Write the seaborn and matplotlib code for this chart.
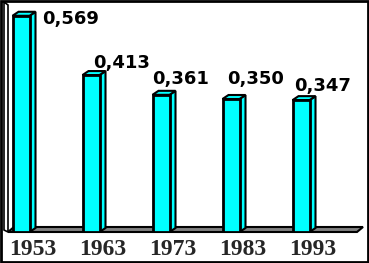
import matplotlib
matplotlib.use("Agg")
import matplotlib.pyplot as plt
import seaborn as sns
import pandas as pd
from matplotlib.patches import Polygon
from matplotlib.transforms import ScaledTranslation

years = ["1953", "1963", "1973", "1983", "1993"]
values = [0.569, 0.413, 0.361, 0.350, 0.347]
value_labels = ["0,569", "0,413", "0,361", "0,350", "0,347"]

# label offsets in pixels relative to (bar right edge / bar top) - layout only
lab_dx = [13, -6, -17, -12, -15]
lab_dy = [-3, 12, 16, 20, 14]

sns.set_style("white")
W, H = 369, 263
fig = plt.figure(figsize=(W / 100, H / 100), dpi=100)
fig.patch.set_facecolor("white")

# axes in pixel geometry
L, R, T, B = 8, 360, 5, 232
ax = fig.add_axes([L / W, (H - B) / H, (R - L) / W, (B - T) / H])
pxu_y = 380.0
pxu_x = 70.0

df = pd.DataFrame({"year": years, "value": values})
sns.barplot(data=df, x="year", y="value", color="#00FFFF", saturation=1,
            edgecolor="black", linewidth=2, width=17 / pxu_x, ax=ax, zorder=3)

ax.set_xlim(-(21 - L) / pxu_x, 4 + (R - 301) / pxu_x)
ax.set_ylim(0, (B - T) / pxu_y)

dx = 6 / pxu_x
dy = 4 / pxu_y

# floor
x0, x1 = ax.get_xlim()
floor = Polygon([(x0, 0), (x1 - 3 / pxu_x, 0), (x1 + dx - 3 / pxu_x, dy + 1 / pxu_y),
                 (x0 + dx, dy + 1 / pxu_y)],
                closed=True, facecolor="#808080", edgecolor="black", linewidth=1.5,
                zorder=1, clip_on=False)
ax.add_patch(floor)

for p, v in zip(ax.patches[:len(values)], values):
    xl = p.get_x()
    w = p.get_width()
    xr = xl + w
    h = p.get_height()
    side = Polygon([(xr, 0), (xr + dx, dy), (xr + dx, h + dy), (xr, h)], closed=True,
                   facecolor="#00FFFF", edgecolor="black", linewidth=1.5, zorder=2.9)
    top = Polygon([(xl, h), (xl + dx, h + dy), (xr + dx, h + dy), (xr, h)], closed=True,
                  facecolor="#00FFFF", edgecolor="black", linewidth=1.5, zorder=2.9)
    ax.add_patch(side)
    ax.add_patch(top)

for i, (p, lab) in enumerate(zip(ax.patches[:len(values)], value_labels)):
    xr = p.get_x() + p.get_width()
    h = p.get_height()
    off = ScaledTranslation(lab_dx[i] / 100, lab_dy[i] / 100, fig.dpi_scale_trans)
    ax.text(xr, h, lab, transform=ax.transData + off, ha="left", va="center",
            fontsize=13, fontweight="bold", family="DejaVu Sans", color="black",
            zorder=5, clip_on=False)

ax.set_xlabel("")
ax.set_ylabel("")
ax.set_yticks([])
ax.tick_params(axis="x", length=0, pad=5)
for t in ax.get_xticklabels():
    t.set_fontfamily("Liberation Serif")
    t.set_fontweight("bold")
    t.set_fontsize(17)
    t.set_transform(t.get_transform() + ScaledTranslation(12 / 100, 0, fig.dpi_scale_trans))
for s in ax.spines.values():
    s.set_visible(False)
ax.set_facecolor("none")

# left wall (pixel coords, origin bottom-left)
wall = Polygon([(4, H - 230), (4, H - 2), (8, H - 5), (8, H - 232)], closed=True,
               facecolor="white", edgecolor="black", linewidth=1.2, transform=None,
               zorder=0)
fig.add_artist(wall)

# outer frame
frame = Polygon([(1, 1), (W - 1.5, 1), (W - 1.5, H - 1), (1, H - 1)], closed=True,
                facecolor="none", edgecolor="black", linewidth=2, transform=None)
fig.add_artist(frame)

fig.savefig("out.png", dpi=100)
